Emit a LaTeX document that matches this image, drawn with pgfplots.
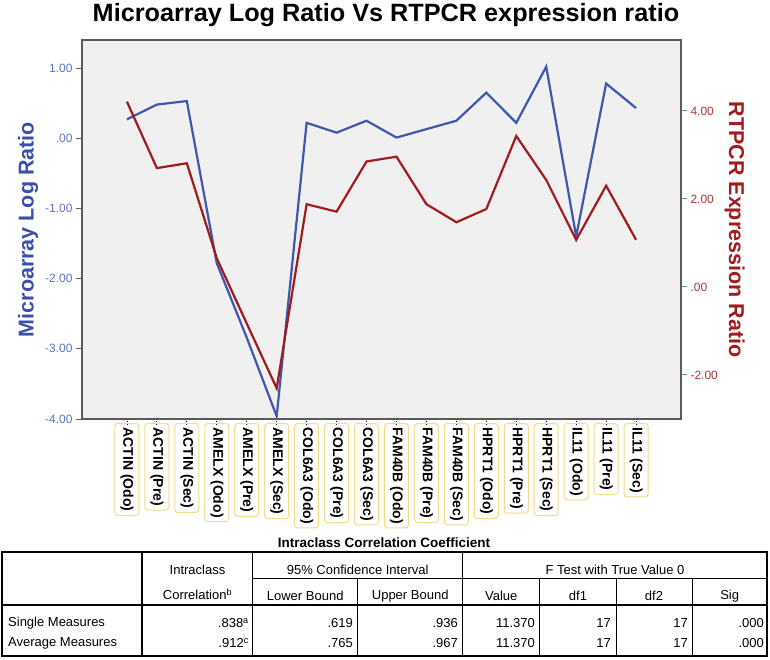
\documentclass[border=0pt]{standalone}
\usepackage{pgfplots}
\usepackage{pgfplotstable}
\pgfplotsset{compat=1.18}
\usepackage{fontspec}
\setmainfont{Liberation Sans}
\definecolor{sblue}{HTML}{3E58AC}
\definecolor{sred}{HTML}{A11B1E}
\definecolor{lblue}{HTML}{3B4FA8}
\definecolor{tickblue}{HTML}{6272C0}
\definecolor{tickred}{HTML}{A8373A}
\definecolor{tickgreen}{HTML}{4CB050}
\definecolor{plotbg}{HTML}{F0F0F0}
\definecolor{framegray}{HTML}{5A5A5A}
\definecolor{boxyellow}{HTML}{F5DA8A}
\newcommand{\fs}[1]{\fontsize{#1}{#1}\selectfont}

\pgfplotstableread{
idx ma rt
0 0.27 4.21
1 0.48 2.70
2 0.53 2.81
3 -1.78 0.65
4 -2.84 -0.83
5 -3.96 -2.30
6 0.22 1.88
7 0.08 1.71
8 0.25 2.85
9 0.01 2.96
10 0.13 1.88
11 0.25 1.47
12 0.65 1.77
13 0.22 3.43
14 1.02 2.43
15 -1.40 1.07
16 0.78 2.30
17 0.43 1.07
}\datatable

\begin{document}
\begin{tikzpicture}
\useasboundingbox (0pt,0pt) rectangle (770pt,-659pt);
\node[font=\bfseries\fs{25}] at (386pt,-15pt) {\scalebox{1.01}[1]{Microarray Log Ratio Vs RTPCR expression ratio}};
\begin{axis}[
  at={(82pt,-419pt)}, anchor=south west,
  scale only axis, width=599pt, height=379pt,
  xmin=-1.5, xmax=18.5, ymin=-4, ymax=1.4,
  axis background/.style={fill=plotbg},
  axis line style={draw=framegray, line width=1.5pt},
  tick align=outside, major tick length=6pt,
  xtick pos=bottom, ytick pos=left,
  ytick={-4,-3,-2,-1,0,1},
  yticklabels={-4.00,-3.00,-2.00,-1.00,.00,1.00},
  yticklabel style={font=\fs{12}, text=tickblue},
  ytick style={draw=framegray, line width=1pt},
  xtick={0,...,17},
  xticklabels={ACTIN (Odo),ACTIN (Pre),ACTIN (Sec),AMELX (Odo),AMELX (Pre),AMELX (Sec),COL6A3 (Odo),COL6A3 (Pre),COL6A3 (Sec),FAM40B (Odo),FAM40B (Pre),FAM40B (Sec),HPRT1 (Odo),HPRT1 (Pre),HPRT1 (Sec),IL11 (Odo),IL11 (Pre),IL11 (Sec)},
  xticklabel style={rotate=-90, anchor=west, font=\bfseries\fs{14}, draw=boxyellow, line width=1pt, rounded corners=3pt, inner xsep=4pt, inner ysep=5.5pt, text height=10pt, text depth=3pt},
  xticklabel shift=-2pt,
  xtick style={draw=black, dash pattern=on 1.5pt off 1.5pt, line width=0.8pt},
  ylabel={Microarray Log Ratio},
  ylabel style={font=\bfseries\fs{21.5}, text=lblue},
]
\addplot[sblue, line width=2.2pt, no markers] table[x=idx, y=ma] {\datatable};
\end{axis}
\begin{axis}[
  at={(82pt,-419pt)}, anchor=south west,
  scale only axis, width=599pt, height=379pt,
  xmin=-1.5, xmax=18.5, ymin=-3, ymax=5.61,
  axis x line=none, axis y line*=right,
  axis line style={draw=framegray, line width=1.5pt},
  tick align=outside, major tick length=6pt,
  ytick={-2,0,2,4},
  yticklabels={-2.00,.00,2.00,4.00},
  yticklabel style={font=\fs{12}, text=tickred},
  ytick style={draw=tickgreen, line width=1pt},
  ylabel={RTPCR Expression Ratio},
  ylabel style={font=\bfseries\fs{21.5}, text=sred, rotate=180},
]
\addplot[sred, line width=2.2pt, no markers] table[x=idx, y=rt] {\datatable};
\end{axis}

\begin{scope}[font=\fs{13}]
\node[font=\bfseries\fs{13.5}] at (384pt,-543pt) {Intraclass Correlation Coefficient};
\draw[line width=1.8pt] (2pt,-552pt) rectangle (767pt,-656pt);
\draw[line width=1.8pt] (2pt,-605pt) -- (767pt,-605pt);
\draw[line width=1.8pt] (142pt,-552pt) -- (142pt,-656pt);
\draw[line width=0.9pt] (252.7pt,-552pt) -- (252.7pt,-656pt) (462.7pt,-552pt) -- (462.7pt,-656pt);
\draw[line width=0.9pt] (252.7pt,-578pt) -- (767pt,-578pt);
\draw[line width=0.9pt] (357.7pt,-578pt) -- (357.7pt,-656pt) (539.8pt,-578pt) -- (539.8pt,-656pt) (616pt,-578pt) -- (616pt,-656pt) (692.3pt,-578pt) -- (692.3pt,-656pt);
\node[inner sep=0] at (197.5pt,-570pt) {Intraclass};
\node[inner sep=0] at (197.5pt,-594pt) {Correlation\textsuperscript{b}};
\node[inner sep=0] at (357.7pt,-570pt) {95\% Confidence Interval};
\node[inner sep=0] at (615pt,-570pt) {F Test with True Value 0};
\node[inner sep=0] at (305.2pt,-596pt) {Lower Bound};
\node[inner sep=0] at (410.2pt,-596pt) {Upper Bound};
\node[inner sep=0] at (501.3pt,-596pt) {Value};
\node[inner sep=0] at (578pt,-596pt) {df1};
\node[inner sep=0] at (654pt,-596pt) {df2};
\node[inner sep=0] at (729.7pt,-596pt) {Sig};
\node[inner sep=0, anchor=west] at (8pt,-623pt) {Single Measures};
\node[inner sep=0, anchor=west] at (8pt,-643pt) {Average Measures};
\node[inner sep=0, anchor=east] at (249pt,-623pt) {.838\textsuperscript{a}};
\node[inner sep=0, anchor=east] at (249pt,-643pt) {.912\textsuperscript{c}};
\node[inner sep=0, anchor=east] at (353pt,-623pt) {.619};
\node[inner sep=0, anchor=east] at (353pt,-643pt) {.765};
\node[inner sep=0, anchor=east] at (458pt,-623pt) {.936};
\node[inner sep=0, anchor=east] at (458pt,-643pt) {.967};
\node[inner sep=0, anchor=east] at (535pt,-623pt) {11.370};
\node[inner sep=0, anchor=east] at (535pt,-643pt) {11.370};
\node[inner sep=0, anchor=east] at (611pt,-623pt) {17};
\node[inner sep=0, anchor=east] at (611pt,-643pt) {17};
\node[inner sep=0, anchor=east] at (688pt,-623pt) {17};
\node[inner sep=0, anchor=east] at (688pt,-643pt) {17};
\node[inner sep=0, anchor=east] at (764pt,-623pt) {.000};
\node[inner sep=0, anchor=east] at (764pt,-643pt) {.000};
\end{scope}
\end{tikzpicture}
\end{document}
